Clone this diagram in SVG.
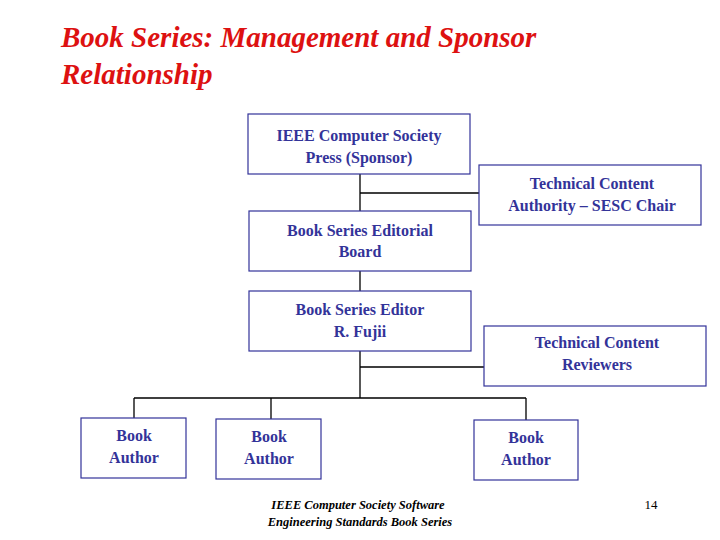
<svg xmlns="http://www.w3.org/2000/svg" width="720" height="540" viewBox="0 0 720 540">
<style>
.t{font-family:"Liberation Serif",serif;font-weight:bold;font-style:italic;font-size:29px;fill:#dd1111}
.b{fill:#fff;stroke:#333399;stroke-width:1.2}
.n{font-family:"Liberation Serif",serif;font-weight:bold;font-size:16px;fill:#333399;text-anchor:middle}
.c{stroke:#000;stroke-width:1.3;fill:none}
.f{font-family:"Liberation Serif",serif;font-weight:bold;font-style:italic;font-size:12.5px;fill:#000;text-anchor:middle}
</style>
<rect width="720" height="540" fill="#fff"/>
<g id="title">
<text class="t" x="61" y="47">Book Series:  Management and Sponsor</text>
<text class="t" x="61" y="84">Relationship</text>
</g>
<g id="connectors">
<path class="c" d="M360 174V398M360 193H481M360 367H484M134 398H526M134 398V418M271 398V419M526 398V420"/>
</g>
<g id="ieee"><rect class="b" x="248" y="114" width="222" height="60"/><text class="n" x="359" y="141">IEEE Computer Society</text><text class="n" x="359" y="163">Press (Sponsor)</text></g>
<g id="tca"><rect class="b" x="479" y="165" width="222" height="60"/><text class="n" x="592" y="189">Technical Content</text><text class="n" x="592" y="211">Authority – SESC Chair</text></g>
<g id="board"><rect class="b" x="249" y="211" width="222" height="60"/><text class="n" x="360" y="236">Book Series Editorial</text><text class="n" x="360" y="257">Board</text></g>
<g id="editor"><rect class="b" x="249" y="291" width="222" height="60"/><text class="n" x="360" y="315">Book Series Editor</text><text class="n" x="360" y="337">R. Fujii</text></g>
<g id="reviewers"><rect class="b" x="484" y="326" width="222" height="60"/><text class="n" x="597" y="348">Technical Content</text><text class="n" x="597" y="370">Reviewers</text></g>
<g id="author1"><rect class="b" x="81" y="418" width="105" height="60"/><text class="n" x="134" y="441">Book</text><text class="n" x="134" y="463">Author</text></g>
<g id="author2"><rect class="b" x="216" y="419" width="105" height="60"/><text class="n" x="269" y="442">Book</text><text class="n" x="269" y="464">Author</text></g>
<g id="author3"><rect class="b" x="474" y="420" width="104" height="60"/><text class="n" x="526" y="443">Book</text><text class="n" x="526" y="465">Author</text></g>
<g id="footer">
<text class="f" x="358" y="509">IEEE Computer Society Software</text>
<text class="f" x="360" y="526">Engineering Standards Book Series</text>
<text x="651" y="509" font-family="Liberation Serif,serif" font-size="13" text-anchor="middle">14</text>
</g>
</svg>
